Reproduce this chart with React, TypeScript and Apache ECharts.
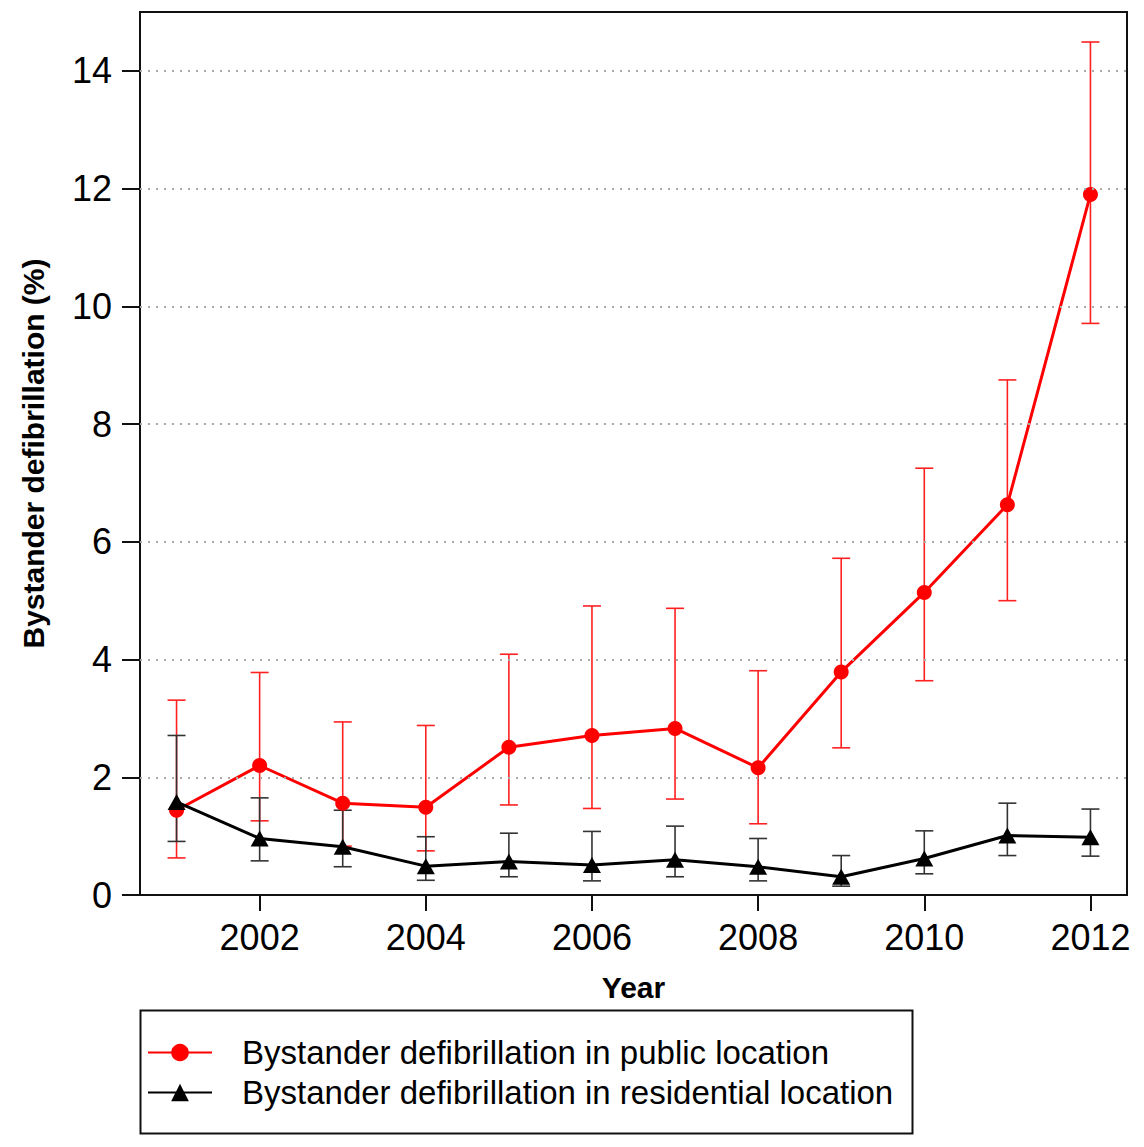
import React, { useEffect, useRef } from "react";
import * as echarts from "echarts";

const years = [2001, 2002, 2003, 2004, 2005, 2006, 2007, 2008, 2009, 2010, 2011, 2012];
const publicRate = [1.44, 2.2, 1.56, 1.49, 2.51, 2.71, 2.83, 2.16, 3.79, 5.14, 6.63, 11.9];
const publicLower = [0.63, 1.26, 0.83, 0.75, 1.53, 1.47, 1.63, 1.21, 2.5, 3.64, 5.0, 9.71];
const publicUpper = [3.31, 3.78, 2.94, 2.88, 4.09, 4.91, 4.87, 3.81, 5.72, 7.25, 8.75, 14.49];
const residRate = [1.58, 0.96, 0.82, 0.49, 0.57, 0.51, 0.6, 0.48, 0.31, 0.62, 1.01, 0.98];
const residLower = [0.91, 0.58, 0.48, 0.25, 0.31, 0.24, 0.31, 0.24, 0.15, 0.36, 0.67, 0.66];
const residUpper = [2.71, 1.65, 1.44, 0.99, 1.05, 1.08, 1.17, 0.96, 0.67, 1.09, 1.56, 1.46];
const xTicks = [2002, 2004, 2006, 2008, 2010, 2012];
const yTicks = [0, 2, 4, 6, 8, 10, 12, 14];
const gridValues = [2, 4, 6, 8, 10, 12, 14];

const publicName = "Bystander defibrillation in public location";
const residName = "Bystander defibrillation in residential location";

const FONT = "'Liberation Sans', Arial, Helvetica, sans-serif";

function errorSeries(lower: number[], upper: number[], color: string, width: number) {
  return {
    type: "custom",
    silent: true,
    z: 2,
    data: years.map((y, i) => [y, lower[i], upper[i]]),
    renderItem: (params: any, api: any) => {
      const x = api.value(0);
      const lo = api.coord([x, api.value(1)]);
      const hi = api.coord([x, api.value(2)]);
      const hw = 9;
      const style = { stroke: color, lineWidth: width };
      return {
        type: "group",
        children: [
          { type: "line", shape: { x1: lo[0], y1: lo[1], x2: hi[0], y2: hi[1] }, style },
          { type: "line", shape: { x1: lo[0] - hw, y1: lo[1], x2: lo[0] + hw, y2: lo[1] }, style },
          { type: "line", shape: { x1: hi[0] - hw, y1: hi[1], x2: hi[0] + hw, y2: hi[1] }, style },
        ],
      };
    },
  };
}

export default function App() {
  const ref = useRef<HTMLDivElement>(null);
  useEffect(() => {
    document.body.style.margin = "0";
    const chart = echarts.init(ref.current!, null, { renderer: "svg" });
    chart.setOption({
      animation: false,
      backgroundColor: "#ffffff",
      textStyle: { fontFamily: FONT },
      grid: {
        left: 140,
        right: 17,
        top: 12,
        bottom: 252,
        show: true,
        borderColor: "#111",
        borderWidth: 2,
        backgroundColor: "transparent",
      },
      xAxis: {
        type: "value",
        min: 2000.56,
        max: 2012.44,
        name: "Year",
        nameLocation: "middle",
        nameGap: 77,
        nameTextStyle: { fontSize: 30, fontWeight: "bold", color: "#000", fontFamily: FONT },
        axisLine: { show: false },
        axisTick: {
          show: true,
          inside: false,
          length: 16,
          lineStyle: { color: "#111", width: 2 },
          customValues: xTicks,
        },
        axisLabel: {
          fontSize: 36,
          color: "#000",
          margin: 24,
          fontFamily: FONT,
          customValues: xTicks,
          formatter: (v: number) => String(v),
        },
        splitLine: { show: false },
      },
      yAxis: {
        type: "value",
        min: 0,
        max: 15,
        name: "Bystander defibrillation (%)",
        nameLocation: "middle",
        nameGap: 92,
        nameTextStyle: { fontSize: 30, fontWeight: "bold", color: "#000", fontFamily: FONT },
        axisLine: { show: false },
        axisTick: {
          show: true,
          inside: false,
          length: 18,
          lineStyle: { color: "#111", width: 2 },
          customValues: yTicks,
        },
        axisLabel: {
          fontSize: 36,
          color: "#000",
          margin: 28,
          fontFamily: FONT,
          customValues: yTicks,
        },
        splitLine: { show: false },
      },
      legend: {
        orient: "vertical",
        left: 142,
        top: 1030,
        itemWidth: 64,
        itemHeight: 22,
        itemGap: 5,
        selectedMode: false,
        textStyle: {
          fontSize: 33,
          color: "#000",
          fontFamily: FONT,
          lineHeight: 35,
          padding: [0, 0, 0, 25],
        },
        data: [publicName, residName],
      },
      graphic: [
        {
          type: "rect",
          left: 138,
          top: 1008,
          shape: { width: 772, height: 123 },
          style: { fill: "none", stroke: "#111", lineWidth: 2 },
        },
      ],
      series: [
        {
          type: "line",
          name: "grid",
          data: [],
          silent: true,
          markLine: {
            silent: true,
            symbol: "none",
            label: { show: false },
            lineStyle: { color: "#aaaaaa", type: [2, 6], width: 2 },
            data: gridValues.map((v) => ({ yAxis: v })),
          },
        },
        errorSeries(publicLower, publicUpper, "#ff2020", 1.6),
        errorSeries(residLower, residUpper, "#333333", 1.6),
        {
          type: "line",
          name: publicName,
          z: 3,
          data: years.map((y, i) => [y, publicRate[i]]),
          symbol: "circle",
          symbolSize: 15,
          lineStyle: { color: "#ff0000", width: 3 },
          itemStyle: { color: "#ff0000" },
        },
        {
          type: "line",
          name: residName,
          z: 4,
          data: years.map((y, i) => [y, residRate[i]]),
          symbol: "triangle",
          symbolSize: [18, 16],
          lineStyle: { color: "#000000", width: 3 },
          itemStyle: { color: "#000000" },
        },
      ],
    });
    return () => chart.dispose();
  }, []);
  return <div ref={ref} style={{ width: 1144, height: 1147 }} />;
}
